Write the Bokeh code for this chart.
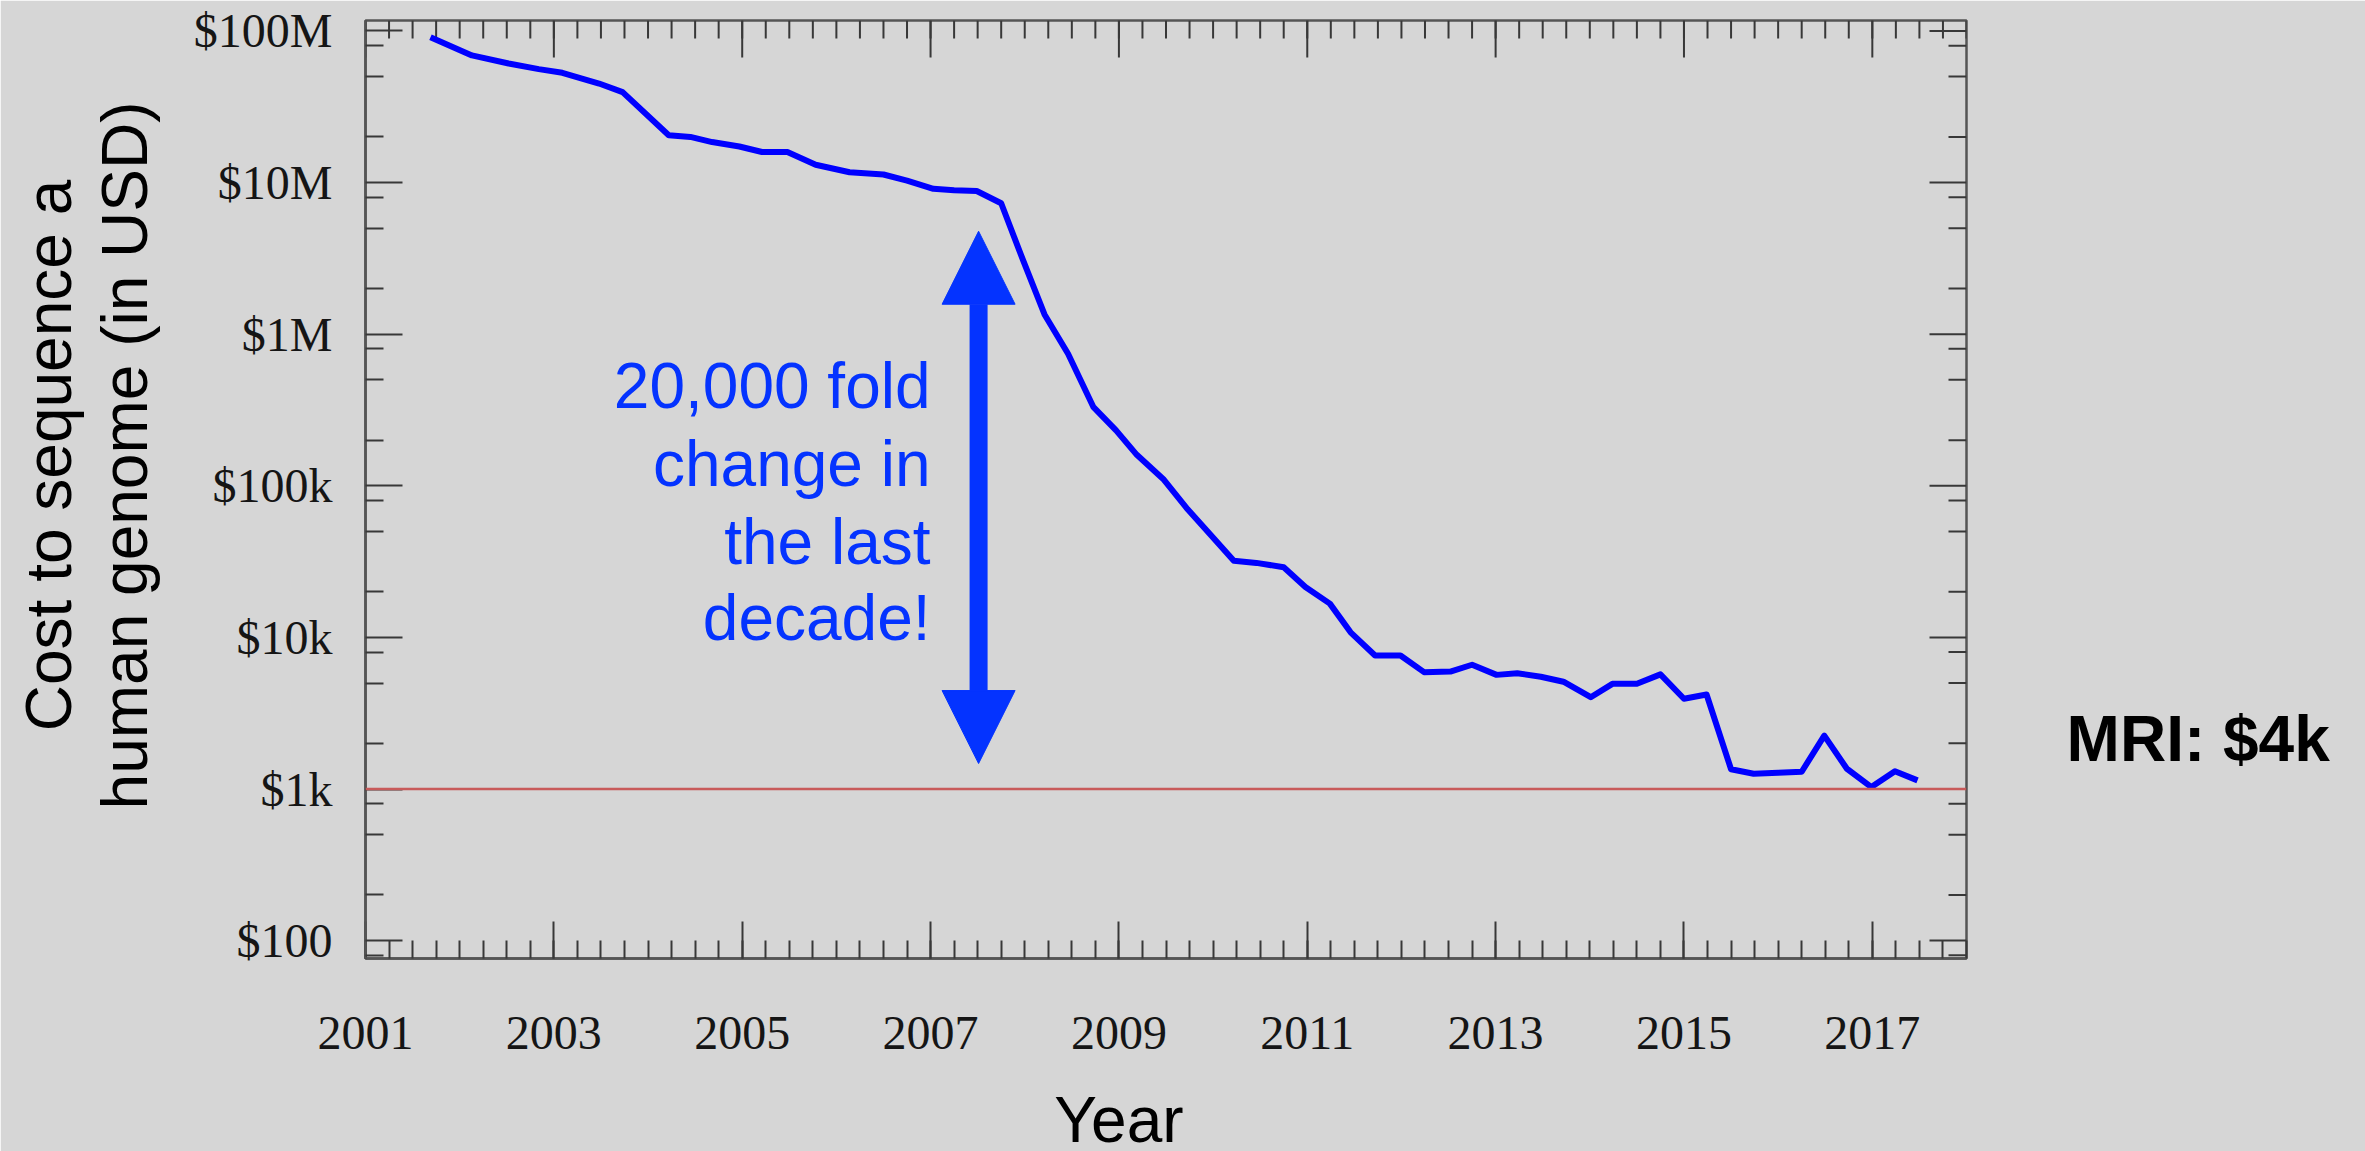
import math
from bokeh.plotting import figure
from bokeh.models import (Range1d, FixedTicker, Span, Label, Arrow, NormalHead)
from bokeh.embed import file_html
from bokeh.resources import INLINE

# ---------------- data ----------------
years = [2001.69, 2002.13, 2002.52, 2002.84, 2003.09, 2003.48, 2003.73, 2004.22,
         2004.45, 2004.68, 2004.97, 2005.21, 2005.48, 2005.78, 2006.14, 2006.50,
         2006.75, 2007.03, 2007.25, 2007.49, 2007.75, 2007.98, 2008.21, 2008.46,
         2008.73, 2008.97, 2009.19, 2009.47, 2009.73, 2009.98, 2010.22, 2010.46,
         2010.75, 2010.98, 2011.24, 2011.46, 2011.72, 2011.99, 2012.24, 2012.52,
         2012.75, 2013.01, 2013.23, 2013.48, 2013.72, 2014.01, 2014.24, 2014.50,
         2014.75, 2015.00, 2015.24, 2015.50, 2015.74, 2016.00, 2016.25, 2016.49,
         2016.73, 2016.99, 2017.24, 2017.48]

cost_usd = [91e6, 69e6, 61e6, 56e6, 53e6, 45e6, 39.5e6, 20.5e6,
            20e6, 18.5e6, 17.3e6, 15.9e6, 15.9e6, 13.1e6, 11.7e6, 11.3e6,
            10.3e6, 9.1e6, 8.9e6, 8.8e6, 7.3e6, 3.1e6, 1.35e6, 743e3,
            330e3, 232e3, 160e3, 111e3, 70e3, 47e3, 32e3, 31e3,
            29e3, 21.5e3, 16.7e3, 10.8e3, 7.6e3, 7.6e3, 5.9e3, 5.95e3,
            6.6e3, 5.66e3, 5.8e3, 5.5e3, 5.1e3, 4.03e3, 4.94e3, 4.94e3,
            5.7e3, 3.94e3, 4.2e3, 1.35e3, 1.26e3, 1.28e3, 1.30e3, 2.25e3,
            1.36e3, 1.03e3, 1.31e3, 1.14e3]

year_ticks = [2001, 2003, 2005, 2007, 2009, 2011, 2013, 2015, 2017]
year_minor_ticks = [2001 + q / 4 for q in range(0, 69)]

cost_ticks = [100, 1000, 10000, 100000, 1000000, 10000000, 100000000]
cost_tick_labels = ["$100", "$1k", "$10k", "$100k", "$1M", "$10M", "$100M"]
cost_minor_ticks = [m * 10 ** k for k in range(1, 8) for m in (2, 5, 8)]

reference_cost = 1000          # red line at $1k

note_lines = ["20,000 fold", "change in", "the last", "decade!"]
ytitle_lines = ["Cost to sequence a", "human genome (in USD)"]
x_title = "Year"
side_note = "MRI: $4k"

# ---------------- style ----------------
BG = "#d6d6d6"
LINE_BLUE = "#0000ff"
NOTE_BLUE = "#0433ff"
SANS = "Liberation Sans"
SERIF = "Liberation Serif"
AXIS_COLOR = "#555555"
TICK_COLOR = "#383838"

X0, X1 = 2001.0, 2018.0
Y0, Y1 = 10 ** 1.882, 10 ** 8.069

p = figure(width=2365, height=1151, y_axis_type="log",
           x_range=Range1d(X0, X1), y_range=Range1d(Y0, Y1),
           output_backend="svg", toolbar_location=None,
           min_border_left=365, min_border_right=399,
           min_border_top=20, min_border_bottom=193,
           background_fill_color=BG, border_fill_color=BG)
p.outline_line_color = AXIS_COLOR
p.outline_line_width = 2.5
p.grid.visible = False

xticker = FixedTicker(ticks=year_ticks, minor_ticks=year_minor_ticks)
yticker = FixedTicker(ticks=cost_ticks, minor_ticks=cost_minor_ticks)

MAJOR_LEN, MINOR_LEN = 37, 18


def style_axis(ax):
    ax.axis_line_color = AXIS_COLOR
    ax.axis_line_width = 2.5
    ax.major_tick_line_color = TICK_COLOR
    ax.major_tick_line_width = 2
    ax.minor_tick_line_color = TICK_COLOR
    ax.minor_tick_line_width = 2
    ax.major_tick_in = MAJOR_LEN
    ax.major_tick_out = 0
    ax.minor_tick_in = MINOR_LEN
    ax.minor_tick_out = 0
    ax.major_label_text_font = SERIF
    ax.major_label_text_font_size = "48px"
    ax.major_label_text_color = "#151515"


xb = p.xaxis[0]
xb.ticker = xticker
style_axis(xb)
xb.major_label_standoff = 58

yl = p.yaxis[0]
yl.ticker = yticker
yl.major_label_overrides = dict(zip(cost_ticks, cost_tick_labels))
style_axis(yl)
yl.major_label_standoff = 33

# mirrored inward ticks on the top and right edges of the box (no labels)
p.ray(x=year_minor_ticks, y=[Y1] * len(year_minor_ticks), length=MINOR_LEN,
      length_units="screen", angle=-math.pi / 2, line_color=TICK_COLOR, line_width=2)
p.ray(x=year_ticks, y=[Y1] * len(year_ticks), length=MAJOR_LEN,
      length_units="screen", angle=-math.pi / 2, line_color=TICK_COLOR, line_width=2)
p.ray(x=[X1] * len(cost_minor_ticks), y=cost_minor_ticks, length=MINOR_LEN,
      length_units="screen", angle=math.pi, line_color=TICK_COLOR, line_width=2)
p.ray(x=[X1] * len(cost_ticks), y=cost_ticks, length=MAJOR_LEN,
      length_units="screen", angle=math.pi, line_color=TICK_COLOR, line_width=2)

# reference line and data line
p.add_layout(Span(location=reference_cost, dimension="width",
                  line_color="#c85a5a", line_width=2.5))
p.line(years, cost_usd, line_color=LINE_BLUE, line_width=6, line_join="round")

# double-headed arrow
p.add_layout(Arrow(start=NormalHead(size=73, fill_color=NOTE_BLUE, line_color=NOTE_BLUE),
                   end=NormalHead(size=73, fill_color=NOTE_BLUE, line_color=NOTE_BLUE),
                   x_start=2007.51, y_start=1472, x_end=2007.51, y_end=4.775e6,
                   line_color=NOTE_BLUE, line_width=18))

# annotation text next to the arrow
for txt, yv in zip(note_lines, [10 ** 5.655, 10 ** 5.142, 10 ** 4.632, 10 ** 4.126]):
    p.add_layout(Label(x=2007.0, y=yv, text=txt, text_align="right",
                       text_baseline="alphabetic", text_font=SANS,
                       text_font_size="64px", text_color=NOTE_BLUE))

# y title (two rotated lines) -- placed in the left side panel (not clipped)
for txt, xv in zip(ytitle_lines, [1997.640, 1998.448]):
    p.add_layout(Label(x=xv, y=10 ** 5.2, text=txt, angle=math.pi / 2,
                       text_align="center", text_baseline="alphabetic",
                       text_font=SANS, text_font_size="64px", text_color="#000000"),
                 "left")

# x title
p.add_layout(Label(x=2009.0, y=10 ** 0.818, text=x_title, text_align="center",
                   text_baseline="alphabetic", text_font=SANS,
                   text_font_size="64px", text_color="#000000"), "below")

# MRI note
p.add_layout(Label(x=2019.063, y=10 ** 3.331, text=side_note, text_align="left",
                   text_baseline="alphabetic", text_font=SANS, text_font_style="bold",
                   text_font_size="64px", text_color="#000000"), "right")

open("out.html", "w").write(file_html(p, INLINE))
